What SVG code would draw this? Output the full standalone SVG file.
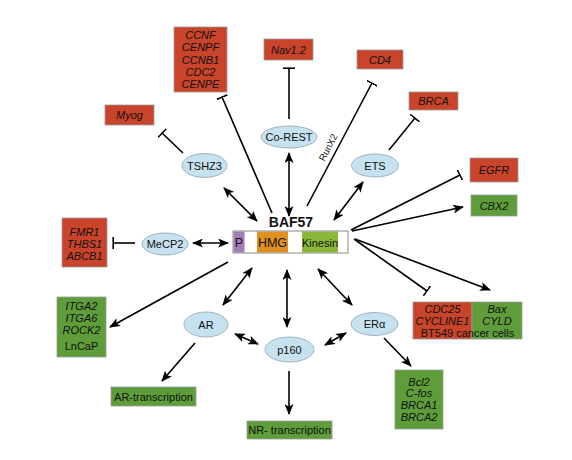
<svg xmlns="http://www.w3.org/2000/svg" width="572" height="460" viewBox="0 0 572 460">
<defs>
<marker id="ah" viewBox="0 0 11 9" refX="10" refY="4.5" markerWidth="11" markerHeight="9" markerUnits="userSpaceOnUse" orient="auto-start-reverse">
<path d="M0,0 L11,4.5 L0,9 L2.8,4.5 Z" fill="#000"/>
</marker>
<marker id="tb" viewBox="0 0 2 12" refX="1" refY="6" markerWidth="2" markerHeight="12" markerUnits="userSpaceOnUse" orient="auto">
<rect x="0" y="0" width="1.6" height="12" fill="#000"/>
</marker>
<style>
.red{fill:#c9442a;stroke:#9c9c9c;stroke-width:0.8}
.grn{fill:#5e9d3a;stroke:#9c9c9c;stroke-width:0.8}
.ell{fill:#c6e1ef;stroke:#8fa3b0;stroke-width:0.8}
.t{font-family:"Liberation Sans",Arial,sans-serif;font-size:11px;fill:#111;text-anchor:middle}
.i{font-style:italic}
.c{stroke:#000;stroke-width:1.6;fill:none}
.a{marker-end:url(#ah)}
.aa{marker-start:url(#ah);marker-end:url(#ah)}
.tt{marker-end:url(#tb)}
</style>
</defs>
<rect width="572" height="460" fill="#fff"/>

<g id="connectors">
<line class="c aa" x1="224" y1="188" x2="257" y2="221"/>
<line class="c tt" x1="272" y1="213" x2="222" y2="97"/>
<line class="c aa" x1="289" y1="153" x2="289" y2="216"/>
<line class="c tt" x1="289" y1="119" x2="289" y2="68"/>
<line class="c tt" x1="307" y1="206" x2="372" y2="83"/>
<line class="c aa" x1="334" y1="220" x2="363" y2="182"/>
<line class="c tt" x1="389" y1="150" x2="415" y2="118"/>
<line class="c tt" x1="183" y1="153" x2="162" y2="133"/>
<line class="c tt" x1="351" y1="230" x2="460" y2="175"/>
<line class="c a" x1="352" y1="231" x2="463" y2="207"/>
<line class="c tt" x1="354" y1="239" x2="427" y2="291"/>
<line class="c a" x1="355" y1="239" x2="490" y2="290"/>
<line class="c aa" x1="193" y1="243" x2="228" y2="243"/>
<line class="c tt" x1="135" y1="243" x2="113" y2="243"/>
<line class="c a" x1="228" y1="262" x2="110" y2="327"/>
<line class="c aa" x1="223" y1="305" x2="252" y2="268"/>
<line class="c aa" x1="287" y1="270" x2="287" y2="327"/>
<line class="c aa" x1="318" y1="269" x2="352" y2="305"/>
<line class="c aa" x1="235" y1="334" x2="258" y2="344"/>
<line class="c aa" x1="325" y1="345" x2="346" y2="333"/>
<line class="c a" x1="195" y1="343" x2="162" y2="381"/>
<line class="c a" x1="289" y1="371" x2="289" y2="414"/>
<line class="c a" x1="384" y1="338" x2="411" y2="366"/>
<text class="t" transform="translate(331,149) rotate(-62)" style="font-size:9.5px">RunX2</text>
</g>

<g id="baf57">
<text class="t" x="291" y="227" style="font-size:14px;font-weight:bold">BAF57</text>
<rect x="233" y="231" width="115" height="22" fill="#fff"/>
<rect x="233.5" y="231.5" width="11" height="21" fill="#a57bb6"/>
<rect x="257" y="231.5" width="31" height="21" fill="#e0911f"/>
<rect x="302" y="231.5" width="36" height="21" fill="#8cb83a"/>
<rect x="233" y="231" width="115" height="22" fill="none" stroke="#888" stroke-width="1"/>
<text class="t" x="239" y="247" style="font-size:12.5px">P</text>
<text class="t" x="272.5" y="247" style="font-size:12.5px">HMG</text>
<text class="t" x="320" y="246.5" style="font-size:11px">Kinesin</text>
</g>

<g id="corest"><ellipse class="ell" cx="289" cy="137" rx="28" ry="11"/><text class="t" x="289" y="141">Co-REST</text></g>
<g id="tshz3"><ellipse class="ell" cx="204.5" cy="165.5" rx="22.5" ry="12"/><text class="t" x="204.5" y="169.5">TSHZ3</text></g>
<g id="ets"><ellipse class="ell" cx="375" cy="165.5" rx="23.5" ry="11.5"/><text class="t" x="375" y="169.5">ETS</text></g>
<g id="mecp2"><ellipse class="ell" cx="165" cy="244" rx="23" ry="11"/><text class="t" x="165" y="248">MeCP2</text></g>
<g id="ar"><ellipse class="ell" cx="206" cy="324.5" rx="22" ry="12.5"/><text class="t" x="206" y="328.5">AR</text></g>
<g id="p160"><ellipse class="ell" cx="289.5" cy="349.5" rx="24.5" ry="12.5"/><text class="t" x="289.5" y="353.5">p160</text></g>
<g id="era"><ellipse class="ell" cx="374.5" cy="324" rx="23.5" ry="11.5"/><text class="t" x="374.5" y="328">ERα</text></g>

<g id="ccnf"><rect class="red" x="174" y="27" width="53" height="65"/>
<text class="t i" x="200.5" y="39">CCNF</text><text class="t i" x="200.5" y="51.3">CENPF</text><text class="t i" x="200.5" y="63.6">CCNB1</text><text class="t i" x="200.5" y="75.9">CDC2</text><text class="t i" x="200.5" y="88.2">CENPE</text></g>
<g id="nav12"><rect class="red" x="264" y="39" width="49" height="21"/><text class="t i" x="288.5" y="53.5">Nav1.2</text></g>
<g id="cd4"><rect class="red" x="357" y="50" width="46" height="19"/><text class="t i" x="380" y="63.5">CD4</text></g>
<g id="brca"><rect class="red" x="409" y="92" width="49" height="18"/><text class="t i" x="433.5" y="104.5">BRCA</text></g>
<g id="myog"><rect class="red" x="105" y="105" width="49" height="20"/><text class="t i" x="129.5" y="119">Myog</text></g>
<g id="egfr"><rect class="red" x="470" y="158" width="48" height="24"/><text class="t i" x="494" y="174">EGFR</text></g>
<g id="cbx2"><rect class="grn" x="471" y="195" width="46" height="21"/><text class="t i" x="494" y="209.5">CBX2</text></g>
<g id="fmr1"><rect class="red" x="62" y="218" width="45" height="49"/>
<text class="t i" x="84.5" y="235.5">FMR1</text><text class="t i" x="84.5" y="247.5">THBS1</text><text class="t i" x="84.5" y="259.5">ABCB1</text></g>
<g id="itga"><rect class="grn" x="57" y="297" width="49" height="60"/>
<text class="t i" x="81.5" y="309.5">ITGA2</text><text class="t i" x="81.5" y="321.5">ITGA6</text><text class="t i" x="81.5" y="334">ROCK2</text><text class="t" x="81.5" y="350">LnCaP</text></g>
<g id="artrans"><rect class="grn" x="111" y="387" width="85" height="19"/><text class="t" x="153.5" y="400.5">AR-transcription</text></g>
<g id="nrtrans"><rect class="grn" x="247" y="421" width="85" height="18"/><text class="t" x="289.5" y="434">NR- transcription</text></g>
<g id="bcl2"><rect class="grn" x="395" y="370" width="48" height="59"/>
<text class="t i" x="419" y="385.5">Bcl2</text><text class="t i" x="419" y="397">C-fos</text><text class="t i" x="419" y="409">BRCA1</text><text class="t i" x="419" y="421">BRCA2</text></g>
<g id="bt549"><rect class="red" x="413" y="302" width="59" height="37"/><rect class="grn" x="472" y="302" width="50" height="37"/>
<text class="t i" x="442.5" y="313">CDC25</text><text class="t i" x="442.5" y="325">CYCLINE1</text>
<text class="t i" x="497" y="313">Bax</text><text class="t i" x="497" y="325">CYLD</text>
<text class="t" x="467.5" y="337">BT549 cancer cells</text></g>
</svg>
